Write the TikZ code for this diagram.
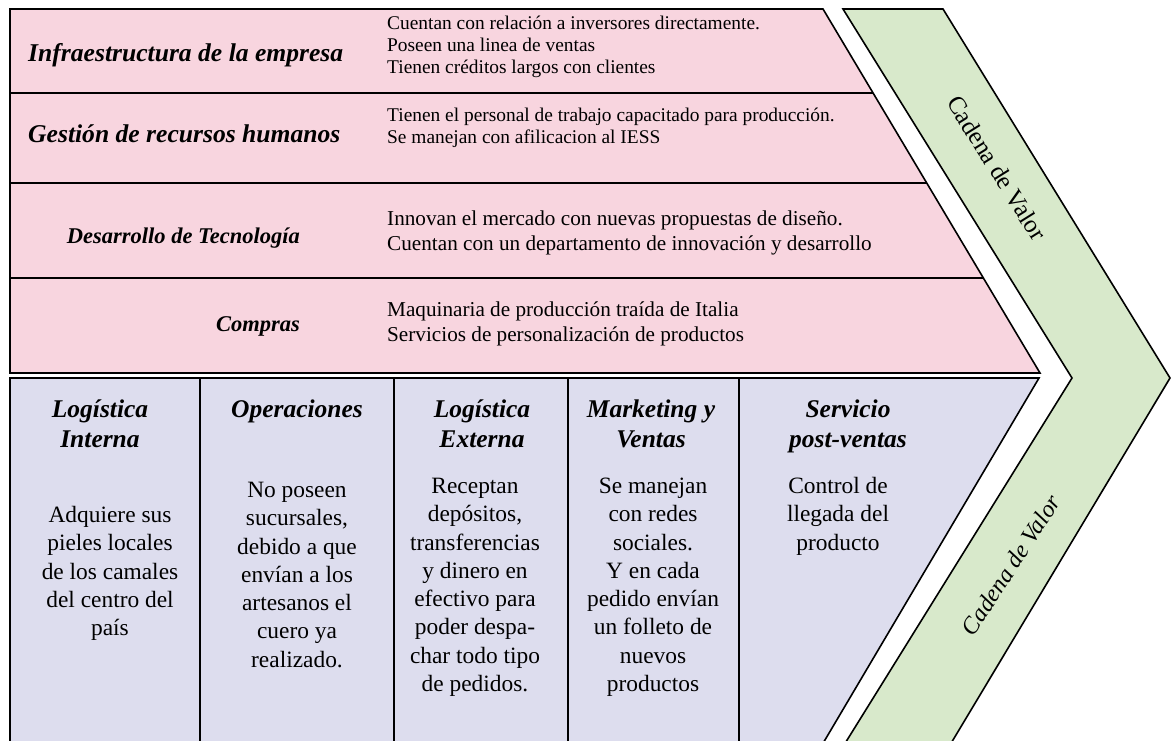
\documentclass[tikz,border=0pt]{standalone}
\usepackage{fontspec}
\setmainfont{Liberation Serif}
\definecolor{pinkc}{RGB}{248,213,223}
\definecolor{bluec}{RGB}{221,221,238}
\definecolor{greenc}{RGB}{216,233,203}
\newcommand\lnsC[1]{\begin{tabular}{@{}c@{}}#1\end{tabular}}
\newcommand\lnsL[1]{\begin{tabular}{@{}l@{}}#1\end{tabular}}
\tikzset{
 edge/.style={draw=black, line width=1.6pt, line join=miter},
 lab/.style={font=\fontsize{25.6}{30}\selectfont\bfseries\itshape, inner sep=0pt},
 labsm/.style={font=\fontsize{22.5}{26}\selectfont\bfseries\itshape, inner sep=0pt},
 smalltxt/.style={inner sep=0pt, anchor=north west, font=\fontsize{19.4}{22}\selectfont},
 midtxt/.style={inner sep=0pt, anchor=north west, font=\fontsize{21.2}{25}\selectfont},
 head/.style={inner sep=0pt, anchor=north, font=\fontsize{25.5}{30}\selectfont\bfseries\itshape},
 body/.style={inner sep=0pt, anchor=north, font=\fontsize{23.4}{28.3}\selectfont},
 cadena/.style={inner sep=0pt, font=\fontsize{25}{28}\selectfont},
}
\begin{document}
\begin{tikzpicture}[x=1pt,y=-1pt]
\useasboundingbox (0,0) rectangle (1176,740);
\clip (0,0) rectangle (1176,740);
% green chevron
\draw[edge, fill=greenc] (843,9) -- (943,9) -- (1170,378) -- (950,745) -- (844,745) -- (1072,378) -- cycle;
% pink support activities
\draw[edge, fill=pinkc] (10,9) -- (823,9) -- (1040,373) -- (10,373) -- cycle;
\draw[edge] (10,93) -- (873,93);
\draw[edge] (10,183) -- (926.6,183);
\draw[edge] (10,278) -- (983.3,278);
% blue primary activities
\draw[edge, fill=bluec] (10,378) -- (1039,378) -- (822,745) -- (10,745) -- cycle;
\foreach \xx in {200,394,568,739} \draw[edge] (\xx,378) -- (\xx,745);
% support labels
\node[lab, anchor=base west] (l1) at (28,61) {Infraestructura de la empresa};
\node[lab, anchor=base west] (l2) at (28,142) {Gestión de recursos humanos};
\node[labsm, anchor=base east] (l3) at (300,243) {Desarrollo de Tecnología};
\node[labsm, anchor=base east] (l4) at (300,331) {Compras};
% support texts
\node[smalltxt] (t1) at (387,14) {\lnsL{Cuentan con relación a inversores directamente.\\Poseen una linea de ventas\\Tienen créditos largos con clientes}};
\node[smalltxt] (t2) at (387,106) {\lnsL{Tienen el personal de trabajo capacitado para producción.\\Se manejan con afilicacion al IESS}};
\node[midtxt] (t3) at (387,207.6) {\lnsL{Innovan el mercado con nuevas propuestas de diseño.\\Cuentan con un departamento de innovación y desarrollo}};
\node[midtxt] (t4) at (387,298.6) {\lnsL{Maquinaria de producción traída de Italia\\Servicios de personalización de productos}};
% primary headers
\node[head] (h1) at (100,396) {\lnsC{Logística\\Interna}};
\node[head] (h2) at (297,396) {\lnsC{Operaciones}};
\node[head] (h3) at (482,396) {\lnsC{Logística\\Externa}};
\node[head] (h4) at (651,396) {\lnsC{Marketing y\\Ventas}};
\node[head] (h5) at (848,396) {\lnsC{Servicio\\post-ventas}};
% primary bodies
\node[body] (b1) at (110,502.4) {\lnsC{Adquiere sus\\pieles locales\\de los camales\\del centro del\\país}};
\node[body] (b2) at (297,477.4) {\lnsC{No poseen\\sucursales,\\debido a que\\envían a los\\artesanos el\\cuero ya\\realizado.}};
\node[body] (b3) at (475,473.4) {\lnsC{Receptan\\depósitos,\\transferencias\\y dinero en\\efectivo para\\poder despa-\\char todo tipo\\de pedidos.}};
\node[body] (b4) at (653,473.4) {\lnsC{Se manejan\\con redes\\sociales.\\Y en cada\\pedido envían\\un folleto de\\nuevos\\productos}};
\node[body] (b5) at (838,473.4) {\lnsC{Control de\\llegada del\\producto}};
% chevron labels
\node[cadena, rotate=-58] (g1) at (997,168) {Cadena de Valor};
\node[cadena, rotate=57, font=\fontsize{24}{28}\selectfont\itshape] (g2) at (1011,565) {Cadena de Valor};
\end{tikzpicture}
\end{document}
